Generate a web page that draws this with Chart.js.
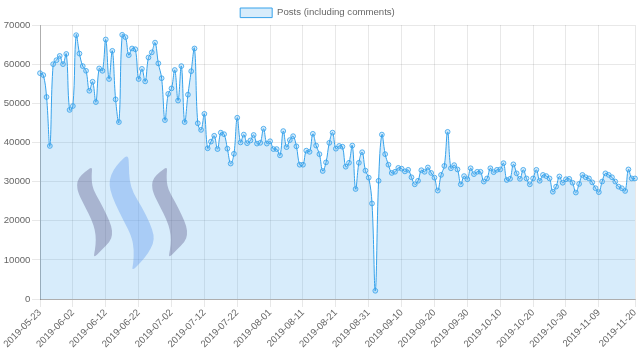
<!DOCTYPE html>
<html>
<head>
<meta charset="utf-8">
<style>
html,body{margin:0;padding:0;background:#fff;}
#wrap{width:640px;height:361px;position:relative;}
</style>
<script src="https://cdn.jsdelivr.net/npm/chart.js@4.4.0/dist/chart.umd.min.js"></script>
</head>
<body>
<div id="wrap"><canvas id="c" width="640" height="361"></canvas></div>
<script>
// ---- data ----
const START_DATE = '2019-05-23';
const seriesLabel = 'Posts (including comments)';
const posts = [
  57700, 57200, 51600, 39100, 60000, 61000, 62100, 60000, 62600, 48300,
  49300, 67400, 62700, 59500, 58300, 53200, 55500, 50300, 58900, 58300,
  66300, 56200, 63400, 51000, 45200, 67500, 66900, 62300, 64000, 63800,
  56200, 58800, 55600, 61700, 63000, 65500, 60200, 56400, 45700, 52400,
  53800, 58500, 50700, 59500, 45200, 52200, 58200, 64000, 44900, 43200,
  47300, 38500, 40200, 41700, 38300, 42500, 42100, 38400, 34600, 37100,
  46300, 40000, 42000, 39800, 40500, 41900, 39700, 39900, 43500, 39700,
  40300, 38300, 38300, 36700, 42900, 38800, 40600, 41600, 39000, 34300,
  34300, 37900, 37600, 42200, 39200, 37000, 32700, 34900, 39900, 42500,
  38400, 39100, 38900, 33800, 34800, 39200, 28100, 34800, 37500, 32800,
  31000, 24400, 2100, 30200, 42000, 37000, 34300, 32200, 32500, 33500,
  33300, 32600, 33000, 31100, 29300, 30200, 32900, 32500, 33600, 32200,
  31000, 27700, 31700, 34000, 42700, 33400, 34200, 33100, 29300, 31400,
  30600, 33400, 31900, 32500, 32500, 30000, 30800, 33400, 32400, 33000,
  33100, 34700, 30400, 30700, 34400, 32100, 30700, 33000, 30800, 29300,
  30800, 33000, 30200, 31700, 31400, 30800, 27400, 28700, 31300, 29700,
  30600, 30700, 29700, 27200, 29400, 31700, 31100, 30800, 29800, 28300,
  27300, 30000, 32100, 31700, 31100, 30000, 28700, 28300, 27600, 33100,
  30800, 30800
];
const xTickLabels = [
  '2019-05-23','2019-06-02','2019-06-12','2019-06-22','2019-07-02','2019-07-12',
  '2019-07-22','2019-08-01','2019-08-11','2019-08-21','2019-08-31','2019-09-10',
  '2019-09-20','2019-09-30','2019-10-10','2019-10-20','2019-10-30','2019-11-09',
  '2019-11-20'
];
const yMin = 0, yMax = 70000, yStep = 10000;

function buildDates(start, n) {
  const out = [];
  const d = new Date(start + 'T00:00:00Z');
  for (let i = 0; i < n; i++) {
    out.push(d.toISOString().slice(0, 10));
    d.setUTCDate(d.getUTCDate() + 1);
  }
  return out;
}
const categories = buildDates(START_DATE, posts.length);

// ---- styles ----
const FONT = "'Liberation Sans', Arial, Helvetica, sans-serif";
const LINE = 'rgb(54,162,235)';
const FILL = 'rgba(54,162,235,0.2)';

// Steem logo watermark (decoration), offsets relative to chart area top-left
const logoSide = [[52.3,141.7],[45,146.7],[38.3,153.3],[36.7,160],[38.3,168.3],[45,181.7],[51.7,195],[55,205],[56,215],[55,225],[53.3,233.3],[61.7,225],[70,216.7],[72.3,210],[71.7,201.7],[66.7,190],[60,176.7],[53.3,165],[51.7,156.7],[51.7,148.3]];
const logoMid = [[88.3,129],[80,136.7],[73.3,145],[69.3,155],[70,165],[75,178.3],[83.3,195],[91.7,211.7],[94,225],[93.3,238.3],[91.7,246],[100,238.3],[108.3,228.3],[113.3,218.3],[114,210],[110,198.3],[101.7,181.7],[93.3,168.3],[89.3,155],[89,141.7]];

function smoothShape(ctx, pts, ox, oy) {
  const n = pts.length;
  const P = i => pts[(i + n) % n];
  const mid = (a, b) => [(a[0] + b[0]) / 2, (a[1] + b[1]) / 2];
  ctx.beginPath();
  let m = mid(P(n - 1), P(0));
  ctx.moveTo(ox + m[0], oy + m[1]);
  for (let i = 0; i < n; i++) {
    const p = P(i), q = mid(P(i), P(i + 1));
    ctx.quadraticCurveTo(ox + p[0], oy + p[1], ox + q[0], oy + q[1]);
  }
  ctx.closePath();
  ctx.fill();
}

const watermark = {
  id: 'watermark',
  afterDatasetsDraw(chart) {
    const { ctx, chartArea } = chart;
    const ox = chartArea.left, oy = chartArea.top;
    ctx.save();
    ctx.fillStyle = 'rgba(81,76,128,0.35)';
    smoothShape(ctx, logoSide, ox, oy);
    smoothShape(ctx, logoSide, ox + 75, oy);
    ctx.fillStyle = 'rgba(95,153,236,0.38)';
    smoothShape(ctx, logoMid, ox, oy);
    ctx.restore();
  }
};

new Chart(document.getElementById('c'), {
  type: 'line',
  data: {
    labels: categories,
    datasets: [{
      label: seriesLabel,
      data: posts,
      borderColor: LINE,
      backgroundColor: FILL,
      borderWidth: 1,
      fill: 'origin',
      tension: 0.4,
      pointRadius: 2.4,
      pointBorderWidth: 0.8,
      pointBackgroundColor: FILL,
      pointBorderColor: LINE
    }]
  },
  options: {
    responsive: false,
    animation: false,
    devicePixelRatio: 1,
    layout: { padding: { left: 0, right: 5, top: 0, bottom: 0 } },
    plugins: {
      legend: {
        maxHeight: 25,
        labels: {
          boxWidth: 32, boxHeight: 9.6, padding: 8,
          color: '#666', font: { size: 9.6, family: FONT }
        }
      },
      tooltip: { enabled: false }
    },
    scales: {
      x: {
        type: 'category',
        grid: { color: 'rgba(0,0,0,0.09)', tickLength: 8, lineWidth: 1 },
        border: { color: 'rgba(0,0,0,0.25)' },
        ticks: {
          autoSkip: false, minRotation: 45, maxRotation: 45, padding: 0,
          color: '#666', font: { size: 9.6, family: FONT }
        },
        afterBuildTicks(scale) {
          scale.ticks = scale.ticks.filter(t => xTickLabels.includes(categories[t.value]));
        },
        afterFit(scale) { scale.height = 62; scale.paddingLeft = 0; scale.paddingRight = 0; }
      },
      y: {
        min: yMin, max: yMax,
        grid: { color: 'rgba(0,0,0,0.09)', tickLength: 8, lineWidth: 1 },
        border: { color: 'rgba(0,0,0,0.25)' },
        ticks: {
          stepSize: yStep, padding: 1.6, color: '#666',
          font: { size: 9.6, family: FONT },
          callback: v => String(v)
        },
        afterFit(scale) { scale.width = 40; scale.paddingTop = 0; scale.paddingBottom = 0; }
      }
    }
  },
  plugins: [watermark]
});
</script>
</body>
</html>
